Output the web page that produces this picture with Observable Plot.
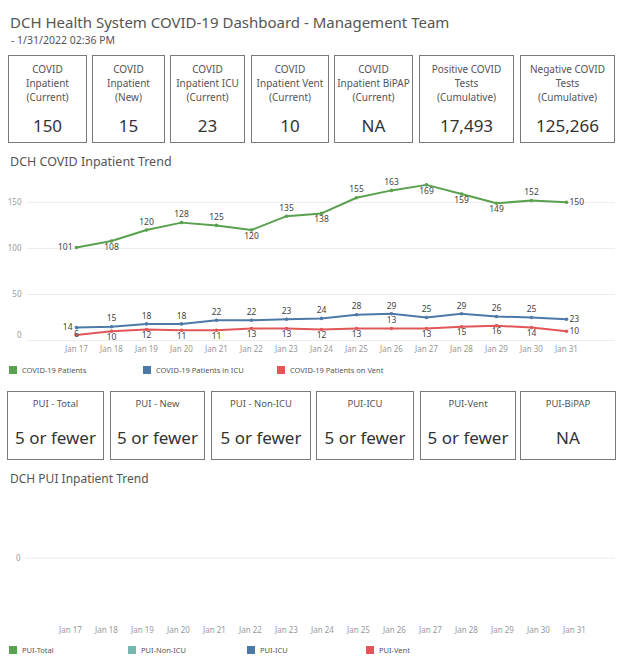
<!DOCTYPE html>
<html>
<head>
<meta charset="utf-8">
<script src="https://cdn.jsdelivr.net/npm/d3@7"></script>
<script src="https://cdn.jsdelivr.net/npm/@observablehq/plot@0.6"></script>
<style>
  html, body { margin: 0; padding: 0; background: #fff; }
  body { font-family: "Noto Sans", "DejaVu Sans", sans-serif; }
  #page { position: relative; width: 624px; height: 661px; overflow: hidden; }
  .abs { position: absolute; white-space: nowrap; }
  .box { position: absolute; border: 1px solid #7a7a7a; box-sizing: border-box; }
  .blabel { position: absolute; left: 0; right: 0; text-align: center; color: #555; font-size: 10px; line-height: 14px; white-space: nowrap; }
  .bvalue { position: absolute; left: 0; right: 0; text-align: center; color: #333; font-size: 17px; line-height: 20px; white-space: nowrap; }
  .leg { position: absolute; font-size: 7.5px; color: #555; line-height: 10px; white-space: nowrap; }
  .leg i { display: inline-block; width: 8px; height: 8px; vertical-align: -1px; margin-right: 5px; }
</style>
</head>
<body>
<div id="page"></div>
<script>
// ---------- data ----------
const days = ["Jan 17","Jan 18","Jan 19","Jan 20","Jan 21","Jan 22","Jan 23","Jan 24","Jan 25","Jan 26","Jan 27","Jan 28","Jan 29","Jan 30","Jan 31"];
const covidPatients = [101,108,120,128,125,120,135,138,155,163,169,159,149,152,150];
const covidIcu      = [14,15,18,18,22,22,23,24,28,29,25,29,26,25,23];
const covidVent     = [6,10,12,11,11,13,13,12,13,13,13,15,16,14,10];
const seriesNames = ["COVID-19 Patients","COVID-19 Patients in ICU","COVID-19 Patients on Vent"];
const yTicks = [0,50,100,150];

const kpiLabels = [
  ["COVID","Inpatient","(Current)"],
  ["COVID","Inpatient","(New)"],
  ["COVID","Inpatient ICU","(Current)"],
  ["COVID","Inpatient Vent","(Current)"],
  ["COVID","Inpatient BiPAP","(Current)"],
  ["Positive COVID","Tests","(Cumulative)"],
  ["Negative COVID","Tests","(Cumulative)"]
];
const kpiValues = ["150","15","23","10","NA","17,493","125,266"];

const puiLabels = ["PUI - Total","PUI - New","PUI - Non-ICU","PUI-ICU","PUI-Vent","PUI-BiPAP"];
const puiValues = ["5 or fewer","5 or fewer","5 or fewer","5 or fewer","5 or fewer","NA"];
const puiSeries = ["PUI-Total","PUI-Non-ICU","PUI-ICU","PUI-Vent"];
const puiTicks = [0];

// ---------- style / layout ----------
const colors = ["#59a14f","#4e79a7","#e15759"];
const puiColors = ["#59a14f","#76b7b2","#4e79a7","#e15759"];
// label placement per point (a = above, b = below, l = left, r = right, o = on)
const labelPlacement = [
  ["l","b","a","a","a","b","a","b","a","a","b","b","b","a","r"],
  ["l","a","a","a","a","a","a","a","a","a","a","a","a","a","r"],
  ["o","b","b","b","b","b","b","b","b","a","b","b","b","b","r"]
];
const kpiBoxes = [[8,87],[92,165],[170,245],[251,329],[334,413],[419,514],[520,615]];
const puiBoxes = [[7,104],[110,205],[211,311],[316,414],[420,516],[520,616]];

const page = document.getElementById("page");
function add(html, css, cls) {
  const d = document.createElement("div");
  d.className = cls || "abs";
  d.innerHTML = html;
  Object.assign(d.style, css);
  page.appendChild(d);
  return d;
}

add("DCH Health System COVID-19 Dashboard - Management Team", {left: "10px", top: "12px", fontSize: "15px", color: "#555", lineHeight: "20px"});
add(" - 1/31/2022 02:36 PM", {left: "11px", top: "33px", fontSize: "10.5px", color: "#555", lineHeight: "14px"});

kpiBoxes.forEach(([x0,x1], i) => {
  const b = add("", {left: x0+"px", top: "55px", width: (x1-x0)+"px", height: "88px"}, "box");
  kpiLabels[i].forEach((t, j) => {
    const l = document.createElement("div");
    l.className = "blabel"; l.textContent = t;
    l.style.top = (6 + j*14) + "px";
    b.appendChild(l);
  });
  const v = document.createElement("div");
  v.className = "bvalue"; v.textContent = kpiValues[i];
  v.style.top = "60px";
  b.appendChild(v);
});

add("DCH COVID Inpatient Trend", {left: "10px", top: "153px", fontSize: "12.5px", color: "#555", lineHeight: "17px"});

// ---------- chart 1 ----------
const long = [];
[covidPatients, covidIcu, covidVent].forEach((arr, s) => {
  arr.forEach((v, i) => long.push({day: days[i], value: v, series: seriesNames[s], pos: labelPlacement[s][i]}));
});
const lab = (pos, opts) => Plot.text(long.filter(d => d.pos === pos), {
  x: "day", y: "value", text: d => String(d.value), fill: "#444", fontSize: 8.5, ...opts
});

const chart1 = Plot.plot({
  width: 615, height: 190,
  marginLeft: 27, marginRight: 0, marginTop: 7, marginBottom: 20,
  style: {fontFamily: "Noto Sans, sans-serif", fontSize: "8px", color: "#999", background: "transparent"},
  x: {type: "point", domain: days, range: [54, 588], label: null},
  y: {domain: [0, 177], label: null},
  color: {domain: seriesNames, range: colors},
  marks: [
    Plot.gridY(yTicks, {stroke: "#ececec", strokeOpacity: 1}),
    Plot.axisY(yTicks.filter(t => t !== 0), {tickSize: 0, tickPadding: 6, label: null, fill: "#999"}),
    Plot.axisY([0], {tickSize: 0, tickPadding: 6, label: null, fill: "#999", dy: -5}),
    Plot.axisX({tickSize: 0, tickPadding: 6, label: null, fill: "#999"}),
    Plot.line(long, {x: "day", y: "value", z: "series", stroke: "series", strokeWidth: 2}),
    Plot.dot(long, {x: "day", y: "value", fill: "series", r: 1.8}),
    lab("a", {dy: -8}),
    lab("b", {dy: 6}),
    lab("l", {dx: -4, textAnchor: "end"}),
    lab("r", {dx: 3, textAnchor: "start"}),
    lab("o", {dy: -1})
  ]
});
chart1.style.position = "absolute";
chart1.style.left = "0px";
chart1.style.top = "170px";
page.appendChild(chart1);

const leg1X = [9, 143, 277];
seriesNames.forEach((n, i) => {
  add(`<i style="background:${colors[i]}"></i>${n}`, {left: leg1X[i]+"px", top: "365px"}, "leg");
});

// ---------- PUI boxes ----------
puiBoxes.forEach(([x0,x1], i) => {
  const b = add("", {left: x0+"px", top: "391px", width: (x1-x0)+"px", height: "69px"}, "box");
  const l = document.createElement("div");
  l.className = "blabel"; l.textContent = puiLabels[i];
  l.style.top = "5px"; l.style.fontSize = "9.5px";
  b.appendChild(l);
  const v = document.createElement("div");
  v.className = "bvalue"; v.textContent = puiValues[i];
  v.style.top = "36px";
  b.appendChild(v);
});

add("DCH PUI Inpatient Trend", {left: "10px", top: "470px", fontSize: "12px", color: "#555", lineHeight: "17px"});

// ---------- chart 2 (no data points shown) ----------
const chart2 = Plot.plot({
  width: 615, height: 160,
  marginLeft: 25, marginRight: 0, marginTop: 15, marginBottom: 20,
  style: {fontFamily: "Noto Sans, sans-serif", fontSize: "8px", color: "#999", background: "transparent"},
  x: {type: "point", domain: days, range: [52, 592], label: null},
  y: {domain: [-1, 1], label: null},
  marks: [
    Plot.gridY(puiTicks, {stroke: "#ececec", strokeOpacity: 1}),
    Plot.axisY(puiTicks, {tickSize: 0, tickPadding: 5, label: null, fill: "#999", tickFormat: d => String(d)}),
    Plot.axisX({tickSize: 0, tickPadding: 7, label: null, fill: "#999"})
  ]
});
chart2.style.position = "absolute";
chart2.style.left = "0px";
chart2.style.top = "480px";
page.appendChild(chart2);

const leg2X = [9, 128, 247, 366];
puiSeries.forEach((n, i) => {
  add(`<i style="background:${puiColors[i]}"></i>${n}`, {left: leg2X[i]+"px", top: "645px"}, "leg");
});
</script>
</body>
</html>
